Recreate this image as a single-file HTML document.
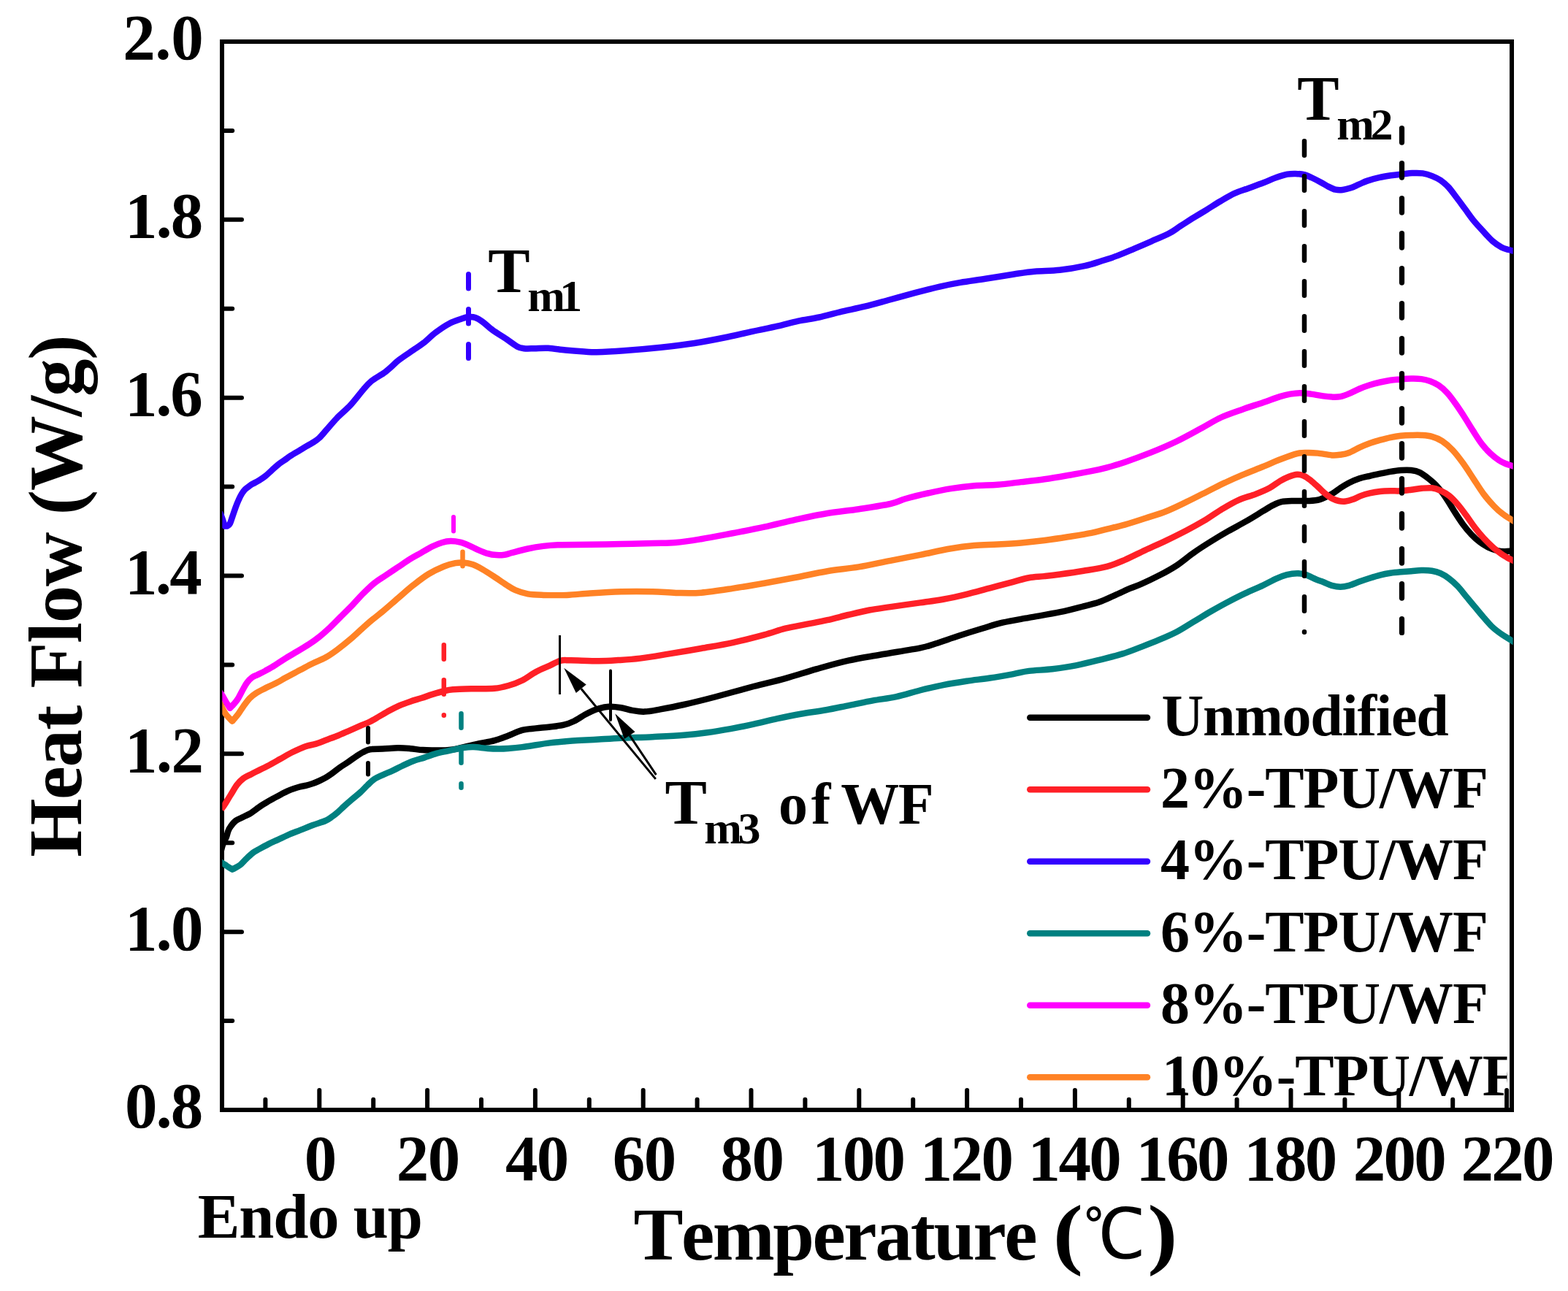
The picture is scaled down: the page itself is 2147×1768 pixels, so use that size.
<!DOCTYPE html>
<html lang="en"><head><meta charset="utf-8"><title>DSC heat flow curves</title>
<style>
html,body{margin:0;padding:0;background:#fff;}
body{width:2147px;height:1768px;overflow:hidden;}
svg{display:block;}
text{font-family:"Liberation Serif","Noto Serif CJK SC",serif;font-weight:bold;fill:#000;font-kerning:none;font-variant-ligatures:none;white-space:pre;}
</style></head><body>
<svg width="2147" height="1768" viewBox="0 0 2147 1768" role="img" aria-label="DSC heat flow curves of TPU/WF composites">
<defs><clipPath id="plot"><rect x="304.3" y="57.0" width="1767.3" height="1463.0"/></clipPath>
<clipPath id="leg"><rect x="1380" y="900" width="683.5" height="700"/></clipPath></defs>
<rect x="0" y="0" width="2147" height="1768" fill="#fff"/>
<g stroke="#000" stroke-width="6.0" fill="none">
<rect x="304.0" y="57.0" width="1766.0" height="1463.0"/>
</g>
<g stroke="#000" stroke-width="6" stroke-linecap="round" fill="none">
<path d="M304.0 1398.1 H318.2"/>
<path d="M304.0 1276.2 H331.0"/>
<path d="M304.0 1154.2 H318.2"/>
<path d="M304.0 1032.3 H331.0"/>
<path d="M304.0 910.4 H318.2"/>
<path d="M304.0 788.5 H331.0"/>
<path d="M304.0 666.6 H318.2"/>
<path d="M304.0 544.7 H331.0"/>
<path d="M304.0 422.7 H318.2"/>
<path d="M304.0 300.8 H331.0"/>
<path d="M304.0 178.9 H318.2"/>
<path d="M363.4 1520.0 V1505.8"/>
<path d="M437.3 1520.0 V1493.0"/>
<path d="M511.2 1520.0 V1505.8"/>
<path d="M585.1 1520.0 V1493.0"/>
<path d="M659.0 1520.0 V1505.8"/>
<path d="M732.9 1520.0 V1493.0"/>
<path d="M806.8 1520.0 V1505.8"/>
<path d="M880.7 1520.0 V1493.0"/>
<path d="M954.6 1520.0 V1505.8"/>
<path d="M1028.5 1520.0 V1493.0"/>
<path d="M1102.4 1520.0 V1505.8"/>
<path d="M1176.3 1520.0 V1493.0"/>
<path d="M1250.2 1520.0 V1505.8"/>
<path d="M1324.1 1520.0 V1493.0"/>
<path d="M1398.0 1520.0 V1505.8"/>
<path d="M1471.9 1520.0 V1493.0"/>
<path d="M1545.8 1520.0 V1505.8"/>
<path d="M1619.7 1520.0 V1493.0"/>
<path d="M1693.6 1520.0 V1505.8"/>
<path d="M1767.5 1520.0 V1493.0"/>
<path d="M1841.4 1520.0 V1505.8"/>
<path d="M1915.3 1520.0 V1493.0"/>
<path d="M1989.2 1520.0 V1505.8"/>
<path d="M2063.1 1520.0 V1493.0"/>
</g>
<g fill="none" stroke-width="8.5" stroke-linejoin="round" stroke-linecap="butt" clip-path="url(#plot)">
<path stroke="#000000" d="M303.0 1164.0C303.4 1162.6 304.4 1158.4 305.5 1155.5C306.6 1152.6 308.7 1149.4 309.9 1146.4C311.1 1143.5 311.5 1140.2 312.5 1137.8C313.5 1135.3 314.2 1134.0 315.9 1131.7C317.6 1129.4 319.9 1126.2 322.8 1124.0C325.7 1121.8 330.0 1120.4 333.2 1118.8C336.4 1117.2 339.0 1116.2 341.9 1114.5C344.8 1112.8 347.6 1110.4 350.5 1108.4C353.4 1106.4 356.2 1104.3 359.1 1102.4C362.0 1100.5 364.9 1098.9 367.8 1097.2C370.7 1095.5 373.5 1094.0 376.4 1092.4C379.3 1090.8 382.2 1089.2 385.1 1087.7C388.0 1086.2 390.8 1084.6 393.7 1083.3C396.6 1082.0 399.5 1080.9 402.4 1079.9C405.3 1078.9 408.1 1078.0 411.0 1077.3C413.9 1076.6 416.7 1076.3 419.6 1075.6C422.5 1074.9 425.4 1074.0 428.3 1073.0C431.2 1072.0 434.0 1070.8 436.9 1069.5C439.8 1068.2 442.7 1066.9 445.6 1065.2C448.5 1063.5 450.9 1061.8 454.2 1059.5C457.4 1057.2 461.4 1053.8 465.1 1051.2C468.8 1048.6 472.7 1046.4 476.5 1043.8C480.3 1041.2 484.4 1038.0 487.9 1035.7C491.4 1033.4 494.1 1031.6 497.3 1030.0C500.5 1028.4 502.4 1026.9 506.8 1026.2C511.2 1025.5 517.6 1025.9 523.9 1025.6C530.2 1025.3 538.5 1024.4 544.8 1024.3C551.1 1024.2 556.2 1024.7 561.9 1025.2C567.6 1025.7 573.2 1026.7 578.9 1027.1C584.6 1027.5 591.1 1027.4 596.0 1027.5C600.9 1027.6 604.0 1027.7 608.0 1027.5C612.0 1027.3 614.8 1027.3 620.0 1026.4C625.2 1025.5 632.7 1023.5 639.0 1022.1C645.3 1020.7 651.7 1019.2 658.0 1017.9C664.3 1016.6 670.7 1015.9 677.0 1014.1C683.3 1012.4 689.6 1009.8 696.0 1007.4C702.4 1005.0 708.8 1001.5 715.1 999.8C721.5 998.1 727.8 998.1 734.1 997.4C740.4 996.7 746.8 996.3 753.1 995.5C759.4 994.7 766.6 994.0 772.1 992.7C777.6 991.4 781.5 989.8 786.3 987.5C791.0 985.2 796.6 981.1 800.6 978.9C804.6 976.7 806.9 975.5 810.1 974.1C813.3 972.7 816.1 971.3 820.0 970.3C823.9 969.2 828.6 968.0 833.7 967.8C838.8 967.6 845.5 968.4 850.8 969.3C856.1 970.1 860.4 972.0 865.7 972.9C871.0 973.8 876.4 974.9 882.8 974.6C889.2 974.4 895.3 973.0 904.2 971.4C913.1 969.8 923.8 967.8 936.2 965.0C948.7 962.2 962.9 958.7 978.9 954.5C994.9 950.3 1016.0 944.2 1032.0 940.0C1048.0 935.8 1060.8 933.1 1075.2 929.1C1089.6 925.1 1104.0 920.2 1118.4 916.1C1132.8 912.0 1147.2 907.8 1161.6 904.6C1176.0 901.4 1188.4 899.6 1204.8 896.7C1221.2 893.8 1247.3 889.8 1260.0 887.3C1272.7 884.8 1272.0 884.2 1280.8 881.5C1289.6 878.8 1302.1 874.2 1312.8 870.8C1323.5 867.3 1334.8 863.8 1344.8 860.8C1354.8 857.8 1361.9 855.2 1372.6 852.7C1383.3 850.2 1395.7 848.3 1408.9 845.9C1422.1 843.5 1439.1 840.8 1451.6 838.2C1464.0 835.6 1474.7 832.6 1483.6 830.3C1492.5 828.0 1497.9 827.0 1505.0 824.5C1512.1 822.0 1519.2 818.4 1526.3 815.3C1533.4 812.2 1541.4 808.4 1547.6 805.7C1553.8 803.1 1557.0 802.3 1563.6 799.4C1570.2 796.5 1579.3 792.2 1587.2 788.1C1595.1 784.0 1603.0 779.8 1610.9 774.6C1618.8 769.4 1626.6 762.4 1634.5 756.9C1642.4 751.4 1650.2 746.4 1658.1 741.5C1666.0 736.6 1673.8 731.9 1681.7 727.4C1689.6 722.9 1697.4 718.9 1705.3 714.4C1713.2 709.9 1722.6 704.0 1728.9 700.2C1735.2 696.5 1738.8 694.1 1743.1 691.9C1747.4 689.7 1750.2 688.2 1754.9 687.2C1759.6 686.2 1765.6 686.2 1771.5 686.0C1777.4 685.8 1784.5 686.3 1790.4 686.0C1796.3 685.7 1801.4 685.7 1806.9 684.1C1812.4 682.5 1818.8 679.2 1823.6 676.6C1828.3 674.0 1831.5 670.9 1835.4 668.3C1839.3 665.7 1842.9 663.4 1847.2 661.2C1851.5 659.0 1856.7 656.9 1861.4 655.3C1866.1 653.7 1870.9 652.9 1875.6 651.8C1880.3 650.7 1885.0 649.7 1889.7 648.7C1894.4 647.7 1899.2 646.7 1903.9 645.9C1908.6 645.1 1913.4 644.3 1918.1 644.0C1922.8 643.7 1928.0 643.5 1932.3 644.0C1936.6 644.5 1940.2 645.2 1944.1 647.1C1948.0 649.0 1952.0 652.1 1955.9 655.3C1959.8 658.4 1963.8 661.7 1967.7 666.0C1971.6 670.3 1975.6 675.6 1979.5 681.3C1983.4 687.0 1987.4 694.1 1991.3 700.2C1995.2 706.3 1999.2 712.6 2003.1 717.9C2007.0 723.2 2011.0 728.0 2014.9 732.1C2018.8 736.2 2022.8 739.8 2026.7 742.7C2030.6 745.7 2034.5 747.9 2038.5 749.8C2042.5 751.7 2046.9 753.2 2050.4 754.1C2054.0 755.0 2056.5 755.1 2059.8 755.2C2063.1 755.3 2067.3 754.7 2070.0 754.5C2072.7 754.3 2075.0 754.1 2076.0 754.0"/>
<path stroke="#FF2027" d="M303.0 1108.5C303.7 1107.5 305.2 1105.8 307.3 1102.5C309.4 1099.2 313.0 1093.1 315.9 1088.5C318.8 1083.9 321.7 1078.5 324.6 1074.7C327.5 1071.0 330.0 1068.4 333.2 1066.0C336.4 1063.6 340.6 1062.0 343.6 1060.4C346.6 1058.8 347.4 1058.4 351.2 1056.5C355.0 1054.6 361.0 1051.8 366.4 1049.0C371.8 1046.2 377.8 1042.7 383.5 1039.5C389.2 1036.3 394.9 1032.8 400.6 1030.0C406.3 1027.2 412.2 1024.3 417.6 1022.4C423.0 1020.5 427.7 1020.2 432.8 1018.6C437.9 1017.0 442.9 1014.8 448.0 1012.9C453.1 1011.0 458.1 1009.2 463.2 1007.2C468.3 1005.2 473.3 1002.8 478.4 1000.6C483.4 998.4 488.8 996.0 493.5 993.9C498.2 991.8 502.4 990.4 506.8 988.2C511.2 986.0 515.7 983.1 520.1 980.6C524.5 978.1 529.0 975.5 533.4 973.1C537.8 970.7 542.0 968.5 546.7 966.4C551.5 964.3 556.9 962.4 561.9 960.7C566.9 959.0 572.0 957.6 577.0 956.0C582.0 954.4 587.1 952.5 592.2 950.9C597.3 949.3 602.8 947.6 607.4 946.5C612.0 945.4 613.1 944.7 620.0 944.2C626.9 943.7 639.0 943.5 648.5 943.3C658.0 943.1 669.1 943.5 677.0 942.8C684.9 942.1 689.6 940.8 696.0 939.0C702.4 937.2 708.8 935.0 715.1 931.8C721.5 928.6 727.8 923.4 734.1 920.0C740.4 916.6 747.6 913.9 753.1 911.4C758.6 908.9 762.5 906.0 767.3 904.8C772.0 903.6 772.8 904.2 781.6 904.3C790.4 904.4 809.2 905.2 820.0 905.2C830.8 905.2 837.1 904.7 846.5 904.1C855.9 903.5 865.0 903.0 876.4 901.6C887.8 900.2 900.9 897.9 914.8 895.6C928.7 893.3 945.3 890.6 960.0 888.0C974.7 885.4 988.8 883.2 1003.2 880.1C1017.6 877.0 1034.4 872.5 1046.4 869.3C1058.4 866.1 1065.6 863.1 1075.2 860.7C1084.8 858.3 1094.4 856.8 1104.0 854.9C1113.6 853.0 1123.2 851.4 1132.8 849.2C1142.4 847.1 1152.0 844.3 1161.6 842.0C1171.2 839.7 1180.8 837.3 1190.4 835.5C1200.0 833.7 1207.6 832.8 1219.2 831.1C1230.8 829.4 1248.0 827.1 1260.0 825.4C1272.0 823.7 1280.9 822.6 1291.5 820.7C1302.1 818.8 1312.8 816.4 1323.5 813.8C1334.2 811.2 1344.8 808.1 1355.5 805.3C1366.2 802.5 1378.6 799.1 1387.5 796.8C1396.4 794.4 1401.8 792.5 1408.9 791.2C1416.0 789.9 1423.1 789.9 1430.2 789.1C1437.3 788.3 1442.7 787.7 1451.6 786.5C1460.5 785.3 1472.9 783.6 1483.6 781.8C1494.3 780.0 1506.2 778.3 1515.6 775.8C1525.0 773.3 1531.2 770.5 1540.0 766.8C1548.8 763.0 1558.8 757.7 1568.3 753.3C1577.8 748.9 1587.2 744.8 1596.7 740.3C1606.2 735.8 1616.3 730.7 1625.0 726.2C1633.7 721.7 1640.7 717.9 1648.6 713.2C1656.5 708.5 1664.4 702.5 1672.3 697.8C1680.2 693.1 1688.0 688.3 1695.9 684.8C1703.8 681.3 1712.4 679.4 1719.5 676.6C1726.6 673.9 1732.9 671.2 1738.4 668.3C1743.9 665.3 1748.3 661.4 1752.6 658.9C1756.9 656.4 1760.5 654.5 1764.4 653.0C1768.3 651.5 1772.7 649.9 1776.2 649.7C1779.7 649.5 1782.4 650.4 1785.6 651.8C1788.8 653.2 1791.9 655.8 1795.1 658.2C1798.2 660.7 1801.3 663.6 1804.5 666.5C1807.7 669.4 1810.8 672.8 1814.0 675.5C1817.2 678.2 1820.4 680.8 1823.6 682.5C1826.8 684.2 1829.9 685.3 1833.1 686.0C1836.2 686.7 1839.3 686.8 1842.5 686.5C1845.7 686.2 1848.5 685.4 1852.0 684.1C1855.5 682.8 1859.9 680.4 1863.8 678.9C1867.7 677.4 1871.3 676.4 1875.6 675.4C1879.9 674.4 1885.0 673.5 1889.7 673.0C1894.4 672.5 1899.2 672.4 1903.9 672.3C1908.6 672.2 1913.4 672.6 1918.1 672.3C1922.8 672.0 1927.6 671.3 1932.3 670.7C1937.0 670.1 1941.7 669.2 1946.4 668.8C1951.1 668.4 1956.3 667.8 1960.6 668.3C1964.9 668.8 1968.5 670.1 1972.4 671.9C1976.3 673.7 1980.3 675.8 1984.2 678.9C1988.1 682.0 1992.1 686.3 1996.0 690.8C1999.9 695.3 2003.9 700.8 2007.8 706.1C2011.7 711.4 2015.6 717.5 2019.6 722.6C2023.5 727.7 2027.5 732.5 2031.5 736.8C2035.5 741.1 2039.4 745.0 2043.3 748.6C2047.2 752.2 2051.6 755.5 2055.1 758.1C2058.6 760.7 2062.0 762.5 2064.5 764.0C2067.0 765.5 2068.1 765.8 2070.0 766.8C2071.9 767.8 2075.0 769.3 2076.0 769.8"/>
<path stroke="#3300FF" d="M301.0 701.5C301.6 702.9 303.2 706.8 304.3 710.0C305.4 713.2 306.6 717.1 307.8 720.6C309.0 720.5 310.4 720.8 311.5 720.3C312.6 719.8 313.5 719.5 314.6 717.5C315.7 715.5 316.8 711.7 318.1 708.0C319.4 704.3 321.0 699.4 322.4 695.5C323.8 691.6 325.2 687.9 326.7 684.7C328.1 681.5 329.6 678.6 331.1 676.1C332.6 673.6 334.0 671.8 335.8 670.0C337.6 668.2 340.2 666.5 341.9 665.3C343.6 664.1 344.0 663.8 346.2 662.6C348.4 661.4 351.9 659.7 354.8 657.9C357.7 656.1 360.6 654.2 363.5 651.9C366.4 649.6 369.2 646.7 372.1 644.1C375.0 641.5 377.9 638.6 380.8 636.3C383.7 634.0 386.5 632.3 389.4 630.3C392.3 628.3 394.4 626.5 398.0 624.2C401.6 621.9 407.4 618.6 411.0 616.4C414.6 614.2 416.7 612.9 419.6 611.2C422.5 609.5 425.4 608.0 428.3 606.1C431.2 604.2 433.8 602.9 436.9 600.0C440.0 597.1 443.0 593.3 447.1 588.7C451.2 584.1 455.8 578.3 461.3 572.6C466.8 566.9 474.4 560.7 480.3 554.3C486.2 547.9 492.2 539.6 496.9 534.2C501.6 528.8 503.6 525.9 508.7 521.8C513.8 517.6 521.4 514.1 527.7 509.3C534.0 504.5 540.4 497.6 546.7 492.7C553.0 487.8 560.2 483.4 565.7 479.6C571.2 475.8 574.8 473.7 579.9 469.7C585.0 465.7 590.6 459.9 596.5 455.4C602.4 450.9 609.6 446.0 615.5 442.9C621.4 439.8 627.8 438.0 632.1 436.5C636.5 435.0 638.5 434.4 641.6 434.1C644.8 433.9 647.9 433.9 651.0 435.0C654.1 436.1 656.5 437.6 660.5 440.5C664.5 443.4 669.6 448.6 674.8 452.3C679.9 456.1 685.9 459.3 691.4 463.0C696.9 466.7 703.6 472.0 708.0 474.4C712.4 476.8 713.5 476.7 717.5 477.2C721.5 477.7 726.2 477.3 731.7 477.2C737.2 477.1 743.6 476.4 750.7 476.8C757.8 477.2 766.2 478.8 774.4 479.6C782.6 480.4 792.9 481.1 800.0 481.5C807.1 481.9 808.0 482.5 817.0 482.3C826.0 482.1 839.3 481.4 854.0 480.3C868.7 479.2 889.1 477.4 905.2 475.7C921.3 474.0 935.6 472.4 950.8 470.0C966.0 467.6 983.0 464.2 996.3 461.5C1009.6 458.8 1019.1 456.3 1030.5 453.8C1041.9 451.3 1054.2 449.1 1064.6 446.7C1075.0 444.3 1083.6 441.6 1093.1 439.6C1102.6 437.6 1112.1 436.6 1121.6 434.5C1131.1 432.4 1139.6 429.8 1150.0 427.3C1160.4 424.8 1172.8 422.5 1184.2 419.7C1195.6 416.9 1206.9 413.6 1218.3 410.5C1229.7 407.4 1241.1 404.2 1252.5 401.2C1263.9 398.2 1276.2 395.0 1286.6 392.6C1297.0 390.2 1304.6 388.7 1315.1 386.9C1325.5 385.1 1337.1 383.7 1349.3 381.8C1361.5 379.9 1377.2 377.2 1388.5 375.5C1399.8 373.8 1406.5 372.6 1416.9 371.7C1427.3 370.8 1439.7 371.1 1451.1 369.8C1462.5 368.5 1475.7 366.2 1485.2 364.1C1494.7 362.1 1500.4 359.9 1508.0 357.5C1515.6 355.1 1523.2 352.8 1530.8 349.9C1538.4 347.0 1546.0 343.6 1553.6 340.4C1561.2 337.2 1568.4 334.1 1576.3 330.6C1584.2 327.1 1594.3 323.0 1601.0 319.5C1607.7 316.0 1610.5 313.3 1616.2 309.7C1621.9 306.1 1629.1 301.4 1635.1 297.7C1641.1 294.0 1646.2 291.0 1652.2 287.3C1658.2 283.6 1664.9 279.2 1671.2 275.5C1677.5 271.8 1683.9 267.8 1690.2 264.9C1696.5 262.0 1702.5 260.3 1709.1 257.9C1715.7 255.5 1723.7 252.7 1730.0 250.3C1736.3 247.9 1741.7 245.2 1747.1 243.3C1752.5 241.4 1758.1 239.6 1762.6 238.7C1767.1 237.8 1769.9 237.8 1773.9 237.9C1777.9 238.0 1783.0 238.6 1786.8 239.5C1790.6 240.4 1793.0 241.9 1796.5 243.5C1800.0 245.1 1804.0 247.2 1807.7 249.2C1811.5 251.2 1815.5 253.8 1819.0 255.6C1822.5 257.4 1825.5 259.0 1828.7 259.7C1831.9 260.4 1834.9 260.4 1838.4 260.0C1841.9 259.6 1845.9 258.6 1849.7 257.3C1853.5 256.0 1857.2 254.0 1861.0 252.4C1864.8 250.8 1867.7 249.1 1872.3 247.6C1876.9 246.1 1883.0 244.4 1888.4 243.2C1893.8 242.0 1899.4 241.1 1904.5 240.3C1909.6 239.6 1914.2 239.2 1919.0 238.7C1923.8 238.2 1928.7 237.3 1933.5 237.1C1938.3 236.9 1943.5 236.7 1948.1 237.4C1952.7 238.1 1957.0 239.5 1961.0 241.1C1965.0 242.7 1968.5 244.2 1972.3 246.8C1976.0 249.4 1979.8 252.5 1983.5 256.5C1987.2 260.5 1991.0 266.0 1994.8 271.0C1998.6 276.0 2002.3 281.2 2006.1 286.3C2009.9 291.4 2013.4 296.6 2017.4 301.6C2021.4 306.6 2026.0 311.4 2030.3 316.1C2034.6 320.8 2038.9 326.0 2043.2 329.8C2047.5 333.6 2052.3 336.7 2056.1 338.7C2059.9 340.7 2062.7 341.0 2066.0 342.0C2069.3 343.0 2074.3 344.2 2076.0 344.6"/>
<path stroke="#008080" d="M299.0 1178.2C299.9 1178.8 302.3 1180.4 304.3 1181.7C306.3 1183.0 308.7 1184.7 311.0 1186.2C313.3 1187.7 315.7 1189.2 318.1 1190.7C321.7 1188.6 325.7 1187.0 328.9 1184.5C332.1 1182.0 334.6 1178.5 337.5 1175.8C340.4 1173.0 343.3 1170.2 346.2 1168.0C349.1 1165.8 351.2 1164.9 354.8 1162.9C358.4 1160.9 363.5 1158.1 367.8 1155.9C372.1 1153.7 376.5 1151.9 380.8 1149.9C385.1 1147.9 388.7 1146.0 393.7 1143.8C398.7 1141.6 405.2 1139.2 411.0 1136.9C416.8 1134.6 422.5 1132.2 428.3 1130.0C434.1 1127.8 441.3 1125.9 445.6 1124.0C449.9 1122.1 451.3 1120.8 454.2 1118.8C457.1 1116.8 460.1 1114.3 462.9 1111.9C465.7 1109.5 467.6 1107.4 470.8 1104.5C474.0 1101.6 478.4 1097.8 482.2 1094.5C486.0 1091.2 490.0 1088.2 493.5 1085.0C497.0 1081.8 499.8 1078.5 503.0 1075.5C506.2 1072.5 509.0 1069.4 512.5 1067.0C516.0 1064.6 519.8 1063.2 523.9 1061.3C528.0 1059.4 532.8 1057.6 537.2 1055.6C541.6 1053.5 545.8 1051.2 550.5 1049.0C555.2 1046.8 560.7 1044.2 565.7 1042.3C570.8 1040.4 575.8 1039.2 580.8 1037.6C585.8 1035.9 590.9 1033.9 596.0 1032.4C601.1 1030.9 607.2 1029.7 611.2 1028.8C615.2 1027.9 616.1 1027.7 620.0 1026.9C623.9 1026.1 629.5 1024.6 634.3 1024.0C639.0 1023.4 643.0 1022.9 648.5 1023.1C654.0 1023.3 661.7 1024.6 667.5 1025.0C673.3 1025.4 678.5 1025.5 683.3 1025.5C688.0 1025.5 690.7 1025.4 696.0 1025.0C701.3 1024.6 708.8 1023.9 715.1 1023.1C721.5 1022.3 727.8 1021.2 734.1 1020.2C740.4 1019.2 746.8 1018.2 753.1 1017.4C759.4 1016.6 765.8 1016.0 772.1 1015.5C778.4 1015.0 783.1 1014.6 791.1 1014.1C799.1 1013.6 810.0 1013.2 820.0 1012.6C830.0 1012.0 838.5 1011.4 850.8 1010.8C863.0 1010.2 879.3 1009.9 893.5 1009.2C907.7 1008.5 923.8 1007.8 936.2 1006.8C948.7 1005.8 957.5 1004.8 968.2 1003.3C978.9 1001.8 989.5 1000.0 1000.2 998.1C1010.9 996.2 1021.5 994.0 1032.2 991.7C1042.9 989.4 1053.6 986.5 1064.3 984.2C1075.0 981.9 1085.1 979.8 1096.3 977.8C1107.5 975.8 1120.1 974.2 1131.3 972.2C1142.5 970.2 1152.7 967.9 1163.4 965.8C1174.1 963.7 1184.7 961.3 1195.4 959.4C1206.1 957.5 1216.7 956.4 1227.4 954.1C1238.1 951.8 1248.7 948.2 1259.4 945.5C1270.1 942.8 1280.8 940.2 1291.5 938.1C1302.2 936.0 1312.8 934.3 1323.5 932.7C1334.2 931.1 1344.8 930.1 1355.5 928.5C1366.2 926.9 1378.6 924.7 1387.5 923.1C1396.4 921.5 1400.0 920.0 1408.9 918.9C1417.8 917.8 1430.2 917.5 1440.9 916.3C1451.6 915.0 1462.2 913.5 1472.9 911.4C1483.6 909.3 1494.2 906.6 1504.9 903.9C1515.6 901.2 1527.2 898.4 1537.0 895.4C1546.8 892.4 1555.2 888.8 1563.6 885.6C1572.0 882.4 1579.3 879.6 1587.2 876.2C1595.1 872.9 1603.0 869.6 1610.9 865.5C1618.8 861.4 1626.6 856.1 1634.5 851.4C1642.4 846.7 1650.2 841.7 1658.1 837.2C1666.0 832.7 1673.8 828.3 1681.7 824.2C1689.6 820.1 1697.4 816.1 1705.3 812.4C1713.2 808.7 1721.8 805.1 1728.9 801.8C1736.0 798.4 1742.3 794.8 1747.8 792.3C1753.3 789.8 1757.3 788.3 1762.0 787.1C1766.7 785.9 1771.9 785.2 1776.2 785.2C1780.5 785.2 1783.7 785.7 1788.0 787.1C1792.3 788.5 1798.2 791.9 1802.2 793.5C1806.2 795.1 1808.2 795.6 1811.8 797.0C1815.4 798.4 1819.7 800.7 1823.6 801.8C1827.5 802.9 1831.5 803.7 1835.4 803.7C1839.3 803.7 1842.9 803.0 1847.2 801.8C1851.5 800.6 1856.7 798.3 1861.4 796.6C1866.1 794.9 1870.9 793.3 1875.6 791.8C1880.3 790.3 1885.0 788.8 1889.7 787.6C1894.4 786.4 1899.2 785.5 1903.9 784.8C1908.6 784.1 1913.4 783.7 1918.1 783.3C1922.8 782.9 1927.6 782.6 1932.3 782.2C1937.0 781.8 1941.7 781.1 1946.4 781.0C1951.1 780.9 1956.3 781.0 1960.6 781.7C1964.9 782.4 1968.5 783.4 1972.4 785.2C1976.3 787.0 1980.3 789.3 1984.2 792.3C1988.1 795.2 1992.1 798.8 1996.0 802.9C1999.9 807.0 2003.9 812.4 2007.8 817.1C2011.7 821.8 2015.6 826.6 2019.6 831.3C2023.5 836.0 2027.5 841.0 2031.5 845.5C2035.5 850.0 2039.4 854.8 2043.3 858.5C2047.2 862.2 2051.6 865.4 2055.1 867.9C2058.6 870.4 2062.0 872.2 2064.5 873.8C2067.0 875.4 2068.1 876.2 2070.0 877.4C2071.9 878.6 2075.0 880.4 2076.0 881.0"/>
<path stroke="#FF00FF" d="M298.6 944.3C299.6 945.6 302.5 949.4 304.3 952.3C306.1 955.2 307.8 958.6 309.5 961.5C311.2 964.4 313.0 967.0 314.8 969.8C316.6 967.9 318.4 966.3 320.3 964.0C322.2 961.7 324.2 959.7 326.3 956.2C328.4 952.7 331.2 946.8 333.2 943.2C335.2 939.6 336.4 937.2 338.4 934.6C340.4 932.0 343.0 929.4 345.3 927.7C347.6 926.0 349.2 925.7 352.2 924.2C355.2 922.7 359.5 920.8 363.5 918.6C367.5 916.4 372.1 913.9 376.4 911.2C380.7 908.5 384.4 905.7 389.4 902.6C394.4 899.5 400.6 895.9 406.3 892.5C412.0 889.1 418.2 885.4 423.3 882.1C428.4 878.8 431.9 876.4 436.6 872.6C441.4 868.8 446.7 864.0 451.8 859.3C456.9 854.5 461.9 849.1 467.0 844.1C472.1 839.1 477.1 834.2 482.2 829.0C487.2 823.8 492.2 817.9 497.3 812.8C502.4 807.7 507.4 802.7 512.5 798.6C517.6 794.5 522.3 791.8 527.7 788.2C533.1 784.6 539.1 780.6 544.8 776.8C550.5 773.0 556.5 768.7 561.9 765.4C567.3 762.1 572.0 759.8 577.0 756.9C582.0 754.0 587.5 750.6 592.2 748.3C597.0 746.0 601.4 744.2 605.5 743.0C609.6 741.8 612.8 741.2 616.9 741.1C621.0 741.0 626.1 741.7 630.2 742.6C634.3 743.5 637.5 745.0 641.6 746.8C645.7 748.5 650.4 751.2 654.8 753.1C659.2 755.0 664.0 757.0 668.1 758.2C672.2 759.4 675.7 759.9 679.5 760.1C683.3 760.4 687.3 760.2 690.9 759.7C694.5 759.2 696.0 758.3 701.3 756.9C706.6 755.5 715.6 753.0 722.7 751.5C729.8 750.0 736.9 748.8 744.0 747.9C751.1 747.0 754.7 746.6 765.4 746.2C776.1 745.9 793.9 746.0 808.1 745.8C822.3 745.6 836.6 745.4 850.8 745.1C865.0 744.8 881.0 744.4 893.5 744.0C906.0 743.6 914.4 744.0 925.5 743.0C936.6 742.0 947.0 740.3 960.0 738.2C973.0 736.1 988.8 733.0 1003.2 730.3C1017.6 727.5 1032.0 724.8 1046.4 721.7C1060.8 718.6 1075.2 714.7 1089.6 711.6C1104.0 708.5 1118.4 705.4 1132.8 703.0C1147.2 700.6 1161.6 699.4 1176.0 697.2C1190.4 695.0 1208.5 692.4 1219.2 690.0C1229.9 687.6 1231.5 685.4 1240.0 683.0C1248.5 680.6 1259.8 677.8 1270.1 675.5C1280.4 673.2 1291.4 670.8 1302.1 669.1C1312.8 667.4 1323.4 666.2 1334.1 665.3C1344.8 664.4 1355.5 664.7 1366.2 663.8C1376.9 662.9 1387.5 661.4 1398.2 660.1C1408.9 658.9 1419.5 657.8 1430.2 656.3C1440.9 654.8 1451.5 652.9 1462.2 651.0C1472.9 649.1 1485.4 647.0 1494.3 645.2C1503.2 643.4 1508.0 642.3 1515.6 640.3C1523.2 638.2 1530.0 636.3 1540.0 632.9C1550.0 629.5 1563.6 624.6 1575.4 619.9C1587.2 615.2 1599.1 610.2 1610.9 604.5C1622.7 598.8 1636.1 591.2 1646.3 585.7C1656.5 580.2 1663.2 575.6 1672.3 571.5C1681.3 567.4 1691.2 564.2 1700.6 560.9C1710.0 557.5 1720.2 554.4 1728.9 551.4C1737.6 548.4 1746.3 545.1 1752.6 543.1C1758.9 541.1 1762.0 540.4 1766.7 539.6C1771.4 538.8 1776.2 538.2 1780.9 538.2C1785.6 538.2 1789.9 538.9 1795.1 539.6C1800.2 540.3 1807.0 541.7 1811.8 542.4C1816.5 543.1 1819.7 543.5 1823.6 543.6C1827.5 543.7 1831.5 543.9 1835.4 543.1C1839.3 542.4 1842.9 540.9 1847.2 539.1C1851.5 537.3 1856.7 534.5 1861.4 532.5C1866.1 530.5 1870.9 528.8 1875.6 527.3C1880.3 525.8 1885.0 524.6 1889.7 523.5C1894.4 522.4 1899.2 521.4 1903.9 520.7C1908.6 520.0 1913.4 519.9 1918.1 519.5C1922.8 519.1 1927.6 518.7 1932.3 518.6C1937.0 518.5 1942.1 518.6 1946.4 519.1C1950.7 519.6 1954.3 520.5 1958.2 521.9C1962.1 523.3 1966.0 525.0 1970.0 527.8C1974.0 530.5 1978.0 534.1 1981.9 538.4C1985.9 542.7 1989.8 548.3 1993.7 553.8C1997.6 559.3 2001.6 565.4 2005.5 571.5C2009.4 577.6 2013.4 584.3 2017.3 590.4C2021.2 596.5 2025.2 603.0 2029.1 608.1C2033.0 613.2 2037.0 617.4 2040.9 621.1C2044.8 624.8 2049.1 628.1 2052.7 630.5C2056.2 632.9 2059.3 634.1 2062.2 635.3C2065.1 636.5 2067.7 637.1 2070.0 637.8C2072.3 638.5 2075.0 639.2 2076.0 639.5"/>
<path stroke="#FF8225" d="M300.0 960.6C300.7 962.1 302.7 966.6 304.3 969.6C305.9 972.6 307.2 975.5 309.5 978.5C311.8 981.5 315.2 984.6 318.0 987.7C320.8 984.4 323.8 981.2 326.3 977.8C328.8 974.4 330.6 971.0 333.2 967.4C335.8 963.8 339.0 959.2 341.9 956.2C344.8 953.2 346.9 951.6 350.5 949.3C354.1 947.0 359.2 944.6 363.5 942.4C367.8 940.2 371.4 938.9 376.4 936.3C381.4 933.7 387.9 929.9 393.7 926.8C399.5 923.7 405.2 920.5 411.0 917.5C416.8 914.5 422.5 911.3 428.3 908.5C434.1 905.7 440.0 903.6 445.6 900.5C451.2 897.4 455.5 894.4 461.7 889.8C467.9 885.2 475.6 879.0 482.6 873.0C489.6 867.0 496.5 859.9 503.5 853.9C510.5 847.9 517.4 842.8 524.4 837.0C531.4 831.2 538.2 825.0 545.2 819.0C552.2 813.0 559.1 806.7 566.1 801.2C573.1 795.7 580.0 790.2 587.0 786.0C594.0 781.8 601.7 778.2 607.8 775.7C613.9 773.2 619.1 772.1 623.5 771.2C627.9 770.3 630.0 770.2 634.0 770.5C638.0 770.8 642.8 771.5 647.2 773.0C651.6 774.5 655.8 776.9 660.5 779.6C665.2 782.3 670.3 785.6 675.7 789.1C681.1 792.6 687.8 797.4 692.8 800.6C697.8 803.8 700.6 806.0 705.6 808.1C710.6 810.2 716.3 812.3 722.7 813.4C729.1 814.5 735.1 814.6 744.0 814.9C752.9 815.1 765.4 815.3 776.1 814.9C786.8 814.5 795.7 813.2 808.1 812.4C820.5 811.6 836.6 810.6 850.8 810.2C865.0 809.8 881.0 809.9 893.5 810.2C906.0 810.5 914.4 811.6 925.5 811.9C936.6 812.1 947.0 812.7 960.0 811.7C973.0 810.7 988.8 808.1 1003.2 805.9C1017.6 803.7 1032.0 801.2 1046.4 798.7C1060.8 796.2 1075.2 793.5 1089.6 790.8C1104.0 788.0 1118.4 784.6 1132.8 782.2C1147.2 779.8 1161.6 778.8 1176.0 776.4C1190.4 774.0 1205.2 770.5 1219.2 767.8C1233.2 765.0 1246.2 762.6 1260.0 759.9C1273.8 757.1 1289.8 753.4 1302.1 751.3C1314.4 749.1 1323.4 748.0 1334.1 747.0C1344.8 746.0 1355.5 746.1 1366.2 745.5C1376.9 744.9 1387.5 744.3 1398.2 743.4C1408.9 742.5 1419.5 741.4 1430.2 740.0C1440.9 738.6 1451.5 737.0 1462.2 735.3C1472.9 733.6 1485.4 731.7 1494.3 729.9C1503.2 728.1 1508.0 726.5 1515.6 724.6C1523.2 722.7 1531.2 721.1 1540.0 718.6C1548.8 716.1 1558.8 712.8 1568.3 709.7C1577.8 706.6 1587.2 704.0 1596.7 700.2C1606.2 696.5 1615.5 691.7 1625.0 687.2C1634.5 682.7 1644.7 677.3 1653.4 673.0C1662.1 668.7 1669.1 664.9 1677.0 661.2C1684.9 657.5 1691.9 654.2 1700.6 650.6C1709.2 647.0 1720.2 642.8 1728.9 639.3C1737.6 635.8 1744.7 632.3 1752.6 629.3C1760.5 626.3 1769.9 622.7 1776.2 621.1C1782.5 619.5 1785.7 620.0 1790.4 619.9C1795.1 619.8 1799.0 620.0 1804.5 620.6C1810.0 621.2 1818.4 623.0 1823.6 623.4C1828.8 623.8 1831.5 623.3 1835.4 622.7C1839.3 622.1 1842.9 621.5 1847.2 619.9C1851.5 618.2 1856.7 615.0 1861.4 612.8C1866.1 610.6 1870.9 608.6 1875.6 606.9C1880.3 605.2 1885.0 604.0 1889.7 602.7C1894.4 601.4 1899.2 600.1 1903.9 599.1C1908.6 598.1 1913.4 597.3 1918.1 596.8C1922.8 596.3 1927.6 596.1 1932.3 596.0C1937.0 595.9 1941.7 595.7 1946.4 596.0C1951.1 596.3 1955.9 596.5 1960.6 597.9C1965.3 599.2 1970.1 601.0 1974.8 604.1C1979.5 607.2 1984.3 611.4 1989.0 616.4C1993.7 621.4 1998.4 627.6 2003.1 634.1C2007.8 640.6 2012.6 648.2 2017.3 655.3C2022.0 662.4 2026.8 670.3 2031.5 676.6C2036.2 682.9 2041.3 688.6 2045.6 693.1C2049.9 697.6 2053.3 700.6 2057.4 703.7C2061.5 706.9 2066.9 710.0 2070.0 712.0C2073.1 714.0 2075.0 714.9 2076.0 715.5"/>
</g>
<path d="M641.5 375.5 V490.5" stroke="#3300FF" stroke-width="7.0" stroke-linecap="round" stroke-dasharray="19.5 28.5" fill="none"/>
<path d="M621.0 708.0 V728.5" stroke="#FF00FF" stroke-width="6.0" stroke-linecap="round" stroke-dasharray="19.5 28.5" fill="none"/>
<path d="M633.5 755.8 V775.2" stroke="#FF8225" stroke-width="6.5" stroke-linecap="round" stroke-dasharray="19.5 28.5" fill="none"/>
<path d="M607.8 883.2 V979.8" stroke="#FF2027" stroke-width="6.5" stroke-linecap="round" stroke-dasharray="19.5 28.5" fill="none"/>
<path d="M504.0 997.0 V1060.5" stroke="#000000" stroke-width="6.0" stroke-linecap="round" stroke-dasharray="19.5 28.5" fill="none"/>
<path d="M631.5 977.2 V1078.8" stroke="#008080" stroke-width="6.5" stroke-linecap="round" stroke-dasharray="19.5 28.5" fill="none"/>
<path d="M1786.0 193.2 V865.8" stroke="#000" stroke-width="6.5" stroke-linecap="round" stroke-dasharray="19.5 28.5" fill="none"/>
<path d="M1919.5 175.6 V866.4" stroke="#000" stroke-width="7.2" stroke-linecap="round" stroke-dasharray="19.5 28.5" fill="none"/>
<path d="M766.5 870 V951" stroke="#000" stroke-width="3" fill="none"/>
<path d="M836 918.5 V986" stroke="#000" stroke-width="4" stroke-linecap="round" fill="none"/>
<path d="M897.8 1066.9 L795.8 943.3" stroke="#000" stroke-width="3.0" fill="none"/>
<path d="M772.2 914.8 L802.7 937.6 L788.8 949.1 Z" fill="#000"/>
<path d="M898.4 1061.2 L862.2 1007.1" stroke="#000" stroke-width="3.0" fill="none"/>
<path d="M842.2 977.2 L869.5 1002.3 L854.9 1012.0 Z" fill="#000"/>
<text x="171.0" y="1544.3" font-size="89.0" text-anchor="start" letter-spacing="-2.05">0.8</text>
<text x="170.9" y="1300.5" font-size="89.0" text-anchor="start" letter-spacing="-1.77">1.0</text>
<text x="170.9" y="1056.6" font-size="89.0" text-anchor="start" letter-spacing="-1.55">1.2</text>
<text x="170.9" y="812.8" font-size="89.0" text-anchor="start" letter-spacing="-2.64">1.4</text>
<text x="170.9" y="569.0" font-size="89.0" text-anchor="start" letter-spacing="-2.16">1.6</text>
<text x="170.9" y="325.1" font-size="89.0" text-anchor="start" letter-spacing="-1.98">1.8</text>
<text x="168.3" y="81.3" font-size="89.0" text-anchor="start" letter-spacing="-0.46">2.0</text>
<text x="416.7" y="1616.3" font-size="89.0" text-anchor="start">0</text>
<text x="542.8" y="1616.3" font-size="89.0" text-anchor="start" letter-spacing="-1.57">20</text>
<text x="691.9" y="1616.3" font-size="89.0" text-anchor="start" letter-spacing="-1.57">40</text>
<text x="838.8" y="1616.3" font-size="89.0" text-anchor="start" letter-spacing="-1.57">60</text>
<text x="986.6" y="1616.3" font-size="89.0" text-anchor="start" letter-spacing="-1.57">80</text>
<text x="1112.0" y="1616.3" font-size="89.0" text-anchor="start" letter-spacing="-2.69">100</text>
<text x="1259.8" y="1616.3" font-size="89.0" text-anchor="start" letter-spacing="-2.69">120</text>
<text x="1407.6" y="1616.3" font-size="89.0" text-anchor="start" letter-spacing="-2.69">140</text>
<text x="1555.4" y="1616.3" font-size="89.0" text-anchor="start" letter-spacing="-2.69">160</text>
<text x="1703.2" y="1616.3" font-size="89.0" text-anchor="start" letter-spacing="-2.69">180</text>
<text x="1852.7" y="1616.3" font-size="89.0" text-anchor="start" letter-spacing="-2.69">200</text>
<text x="2000.5" y="1616.3" font-size="89.0" text-anchor="start" letter-spacing="-2.69">220</text>
<text x="867.4" y="1724.8" font-size="102.0" text-anchor="start" letter-spacing="-2.46">Temperature</text> <text transform="translate(1441.8 1724.8) scale(1.144 1)" font-size="108">(</text><text transform="translate(1483.4 1723.1) scale(0.91 0.958)" font-size="100" style="font-family:'Liberation Serif','WenQuanYi Zen Hei',sans-serif;font-weight:normal">℃</text><text transform="translate(1571.3 1724.8) scale(1.144 1)" font-size="108">)</text>
<text transform="translate(111.2 1173.8) rotate(-90)" font-size="103" letter-spacing="-1.21" text-anchor="start">Heat Flow (W/g)</text>
<text x="270.7" y="1694.9" font-size="86.5" text-anchor="start" letter-spacing="-1.15">Endo up</text>
<text x="668.3" y="400.0" font-size="86.0" text-anchor="start">T</text><text x="722.2" y="426.0" font-size="62.0" text-anchor="start" letter-spacing="-7.57">m1</text>
<text x="1776.3" y="164.0" font-size="86.0" text-anchor="start">T</text><text x="1830.3" y="190.7" font-size="62.0" text-anchor="start" letter-spacing="-5.32">m2</text>
<text x="910.5" y="1127.8" font-size="86.0" text-anchor="start">T</text><text x="964.3" y="1154.7" font-size="62.0" text-anchor="start" letter-spacing="-5.36">m3</text> <text x="1065.9" y="1128.2" font-size="80.0" text-anchor="start" letter-spacing="4.82">of</text> <text x="1151.3" y="1128.2" font-size="80.0" text-anchor="start" letter-spacing="-1.51">WF</text>
<g clip-path="url(#leg)">
<path d="M1410.3 982.8 H1571.0" stroke="#000000" stroke-width="8.5" stroke-linecap="round" fill="none"/>
<text x="1590.4" y="1007.4" font-size="80.0" text-anchor="start" letter-spacing="-1.24">Unmodified</text>
<path d="M1410.3 1081.3 H1571.0" stroke="#FF2027" stroke-width="8.5" stroke-linecap="round" fill="none"/>
<text x="1589.0" y="1105.9" font-size="80.0" text-anchor="start" letter-spacing="-1.12">2%-TPU/WF</text>
<path d="M1410.3 1179.8 H1571.0" stroke="#3300FF" stroke-width="8.5" stroke-linecap="round" fill="none"/>
<text x="1589.0" y="1204.4" font-size="80.0" text-anchor="start" letter-spacing="-1.12">4%-TPU/WF</text>
<path d="M1410.3 1278.3 H1571.0" stroke="#008080" stroke-width="8.5" stroke-linecap="round" fill="none"/>
<text x="1589.0" y="1302.9" font-size="80.0" text-anchor="start" letter-spacing="-1.12">6%-TPU/WF</text>
<path d="M1410.3 1376.8 H1571.0" stroke="#FF00FF" stroke-width="8.5" stroke-linecap="round" fill="none"/>
<text x="1589.0" y="1401.4" font-size="80.0" text-anchor="start" letter-spacing="-1.12">8%-TPU/WF</text>
<path d="M1410.3 1475.3 H1571.0" stroke="#FF8225" stroke-width="8.5" stroke-linecap="round" fill="none"/>
<text x="1591.0" y="1499.9" font-size="80.0" text-anchor="start" letter-spacing="-1.12">10%-TPU/WF</text>
</g>
</svg>
</body></html>
